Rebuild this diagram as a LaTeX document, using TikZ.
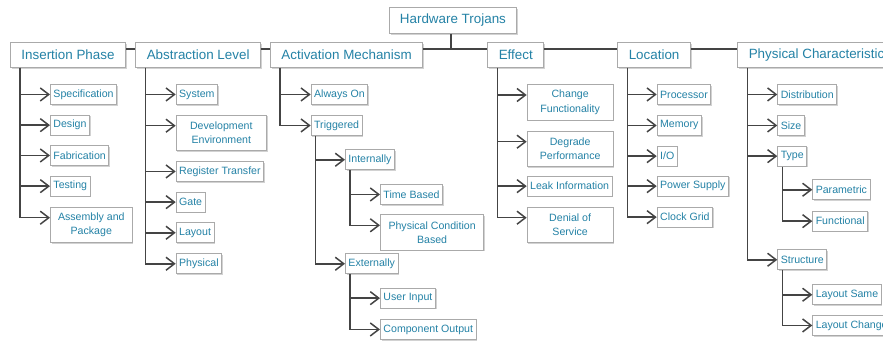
\documentclass[tikz,border=0pt]{standalone}
\usepackage{fontspec}
\setmainfont{Liberation Sans}
\usetikzlibrary{arrows.meta,shadows}
\definecolor{tcol}{RGB}{36,130,166}
\definecolor{bcol}{RGB}{170,170,170}
\definecolor{lcol}{RGB}{68,68,68}
\tikzset{
  base/.style={draw=bcol, line width=0.9pt, fill=white, text=tcol, anchor=north west, inner ysep=0pt,
    drop shadow={shadow xshift=1.2pt, shadow yshift=-1.2pt, fill=black!35, opacity=0.5}},
  leaf/.style={base, font=\fontsize{10.6pt}{14.3pt}\selectfont, inner xsep=3pt, minimum height=20pt},
  leaftwo/.style={leaf, align=center, minimum height=35.5pt, minimum width=#1},
  cat/.style={base, font=\fontsize{13.4pt}{16pt}\selectfont, inner xsep=11pt, minimum height=25pt},
  link/.style={draw=lcol, line width=1.5pt},
  arr/.style={link, -{Straight Barb[length=8.5pt,width=13pt]}},
}
\begin{document}
\begin{tikzpicture}[x=1pt,y=-1pt]
\useasboundingbox (0,0) rectangle (883,340);
\clip (0,0) rectangle (883,340);
% root and categories
\node[cat, minimum height=26pt, inner xsep=10.5pt] (root) at (389,7) {Hardware Trojans};
\coordinate (bus) at (451,49);
\node[cat] (ins) at (10,42) {Insertion Phase};
\node[cat] (abs) at (135.3,42) {Abstraction Level};
\node[cat] (act) at (270,42) {Activation Mechanism};
\node[cat] (eff) at (487.3,42) {Effect};
\node[cat] (loc) at (617.3,42) {Location};
\node[cat] (phy) at (737.3,42) {Physical Characteristics};
% Insertion phase
\node[leaf] (spec) at (50,84) {Specification};
\node[leaf] (design) at (50,114.7) {Design};
\node[leaf] (fab) at (50,145) {Fabrication};
\node[leaf] (test) at (50,175.7) {Testing};
\node[leaftwo=81.7pt] (asm) at (50,206.7) {Assembly and\\Package};
% Abstraction level
\node[leaf] (sys) at (175.7,84) {System};
\node[leaftwo=90.3pt] (dev) at (175.7,114.7) {Development\\Environment};
\node[leaf] (rtl) at (175.7,161) {Register Transfer};
\node[leaf] (gate) at (175.7,191.7) {Gate};
\node[leaf] (lay) at (175.7,222.3) {Layout};
\node[leaf] (phys) at (175.7,253.3) {Physical};
% Activation mechanism
\node[leaf] (always) at (310.7,84) {Always On};
\node[leaf] (trig) at (310.7,115) {Triggered};
\node[leaf] (int) at (345,149.3) {Internally};
\node[leaf] (time) at (380,184) {Time Based};
\node[leaftwo=103.3pt] (pcb) at (380,214.3) {Physical Condition\\Based};
\node[leaf] (ext) at (345,253.3) {Externally};
\node[leaf] (user) at (380,287.7) {User Input};
\node[leaf] (comp) at (380,319) {Component Output};
% Effect
\node[leaftwo=86pt] (chg) at (526.7,84) {Change\\Functionality};
\node[leaftwo=86pt] (deg) at (526.7,130.7) {Degrade\\Performance};
\node[leaf] (leak) at (526.7,175.7) {Leak Information};
\node[leaftwo=86pt] (dos) at (526.7,206.7) {Denial of\\Service};
% Location
\node[leaf] (proc) at (656.7,84) {Processor};
\node[leaf] (mem) at (656.7,115) {Memory};
\node[leaf] (io) at (656.7,145.7) {I/O};
\node[leaf] (pwr) at (656.7,175.7) {Power Supply};
\node[leaf] (clk) at (656.7,206.7) {Clock Grid};
% Physical characteristics
\node[leaf] (dist) at (777.3,84) {Distribution};
\node[leaf] (size) at (777.3,115) {Size};
\node[leaf] (type) at (777.3,145.7) {Type};
\node[leaf] (param) at (812.3,179.3) {Parametric};
\node[leaf] (func) at (812.3,210.7) {Functional};
\node[leaf] (struct) at (777.3,249.3) {Structure};
\node[leaf] (lsame) at (812.3,284.3) {Layout Same};
\node[leaf] (lchg) at (812.3,315) {Layout Change};
% root connectors
\draw[link] ([xshift=-2pt]root.south) -- ([xshift=-2pt]root.south |- bus);
\draw[link] (ins.east |- bus) -- (abs.west |- bus);
\draw[link] (abs.east |- bus) -- (act.west |- bus);
\draw[link] (act.east |- bus) -- (eff.west |- bus);
\draw[link] (eff.east |- bus) -- (loc.west |- bus);
\draw[link] (loc.east |- bus) -- (phy.west |- bus);
% category connectors
\foreach \p/\c in {ins/spec, ins/design, ins/fab, ins/test, abs/sys, abs/rtl, abs/gate, abs/lay, abs/phys,
  act/always, act/trig, loc/proc, loc/mem, loc/io, loc/pwr, loc/clk, eff/leak,
  phy/dist, phy/size, phy/type, phy/struct}
  \draw[arr] ([xshift=10pt]\p.south west) |- (\c.west);
\foreach \p/\c in {ins/asm, abs/dev, eff/chg, eff/deg, eff/dos}
  \draw[arr] ([xshift=10pt]\p.south west) |- ([yshift=-11pt]\c.north west);
% sub connectors
\foreach \p/\c in {trig/int, trig/ext, int/time, ext/user, ext/comp, type/param, type/func, struct/lsame, struct/lchg}
  \draw[arr] ([xshift=5pt]\p.south west) |- (\c.west);
\draw[arr] ([xshift=5pt]int.south west) |- ([yshift=-11pt]pcb.north west);
\end{tikzpicture}
\end{document}
